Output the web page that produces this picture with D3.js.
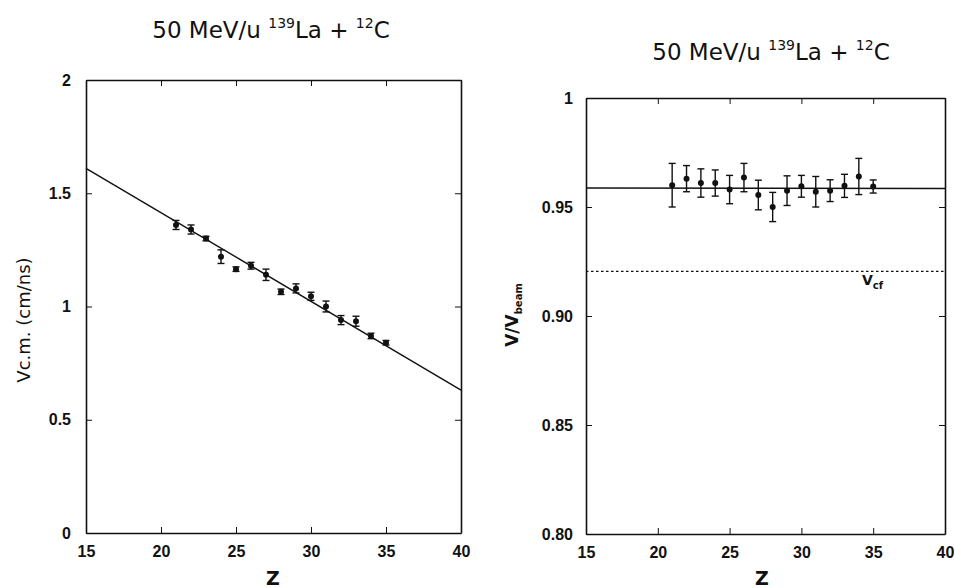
<!DOCTYPE html>
<html>
<head>
<meta charset="utf-8">
<script src="https://cdn.jsdelivr.net/npm/d3@7"></script>
<style>
  body { margin: 0; background: #fff; }
  svg { display: block; font-family: "DejaVu Sans", sans-serif; }
  .tick text { font-family: "Liberation Sans", sans-serif; font-weight: bold; font-size: 16px; fill: #111; }
  .domain, .tick line { stroke: #111; }
</style>
</head>
<body>
<div id="chart"></div>
<script>
// Left panel: centre-of-mass velocity vs Z
const zLeft = [21, 22, 23, 24, 25, 26, 27, 28, 29, 30, 31, 32, 33, 34, 35];
const vcm = [1.36, 1.34, 1.30, 1.22, 1.165, 1.18, 1.14, 1.065, 1.08, 1.045, 1.0, 0.94, 0.935, 0.87, 0.84];
const vcmErr = [0.02, 0.02, 0.01, 0.03, 0.01, 0.015, 0.025, 0.012, 0.02, 0.018, 0.024, 0.02, 0.022, 0.012, 0.01];
const fitLeft = [[15, 1.61], [40, 0.631]];
const leftYTicks = [0, 0.5, 1, 1.5, 2];
const leftYLabels = ["0", "0.5", "1", "1.5", "2"];

// Right panel: V / V_beam vs Z
const zRight = [21, 22, 23, 24, 25, 26, 27, 28, 29, 30, 31, 32, 33, 34, 35];
const vRatio = [0.960, 0.963, 0.961, 0.961, 0.958, 0.9635, 0.9555, 0.950, 0.9575, 0.9595, 0.957, 0.9575, 0.9597, 0.964, 0.9594];
const vRatioErr = [0.010, 0.006, 0.0065, 0.006, 0.0065, 0.0065, 0.0068, 0.0067, 0.0068, 0.005, 0.007, 0.005, 0.0053, 0.0083, 0.003];
const fitRight = [[15, 0.9587], [40, 0.9585]];
const vcf = 0.9205;
const rightYTicks = [0.80, 0.85, 0.90, 0.95, 1];
const rightYLabels = ["0.80", "0.85", "0.90", "0.95", "1"];

const xTicks = [15, 20, 25, 30, 35, 40];

const svg = d3.select("#chart").append("svg").attr("width", 955).attr("height", 588);

function title(cx, y) {
  const t = svg.append("text").attr("x", cx).attr("y", y).attr("text-anchor", "middle")
    .attr("font-size", 23).attr("fill", "#111");
  t.append("tspan").text("50 MeV/u ");
  t.append("tspan").attr("font-size", 14).attr("dy", -10).text("139");
  t.append("tspan").attr("dy", 10).text("La + ");
  t.append("tspan").attr("font-size", 14).attr("dy", -10).text("12");
  t.append("tspan").attr("dy", 10).text("C");
}

function panel({left, right, top, bottom, yDomain, yTicks, yLabels, z, v, err, fit, labelPad}) {
  const x = d3.scaleLinear([15, 40], [left, right]);
  const y = d3.scaleLinear(yDomain, [bottom, top]);
  const g = svg.append("g");

  g.append("g").attr("transform", `translate(${left},0)`)
    .call(d3.axisLeft(y).tickValues(yTicks).tickFormat((d, i) => yLabels[i]).tickSize(-6).tickPadding(labelPad).tickSizeOuter(0));
  g.append("g").attr("transform", `translate(${right},0)`)
    .call(d3.axisRight(y).tickValues(yTicks).tickFormat("").tickSize(-6).tickSizeOuter(0));
  g.append("g").attr("transform", `translate(0,${bottom})`)
    .call(d3.axisBottom(x).tickValues(xTicks).tickSize(-6).tickPadding(13).tickSizeOuter(0));
  g.append("g").attr("transform", `translate(0,${top})`)
    .call(d3.axisTop(x).tickValues(xTicks).tickFormat("").tickSize(-6).tickSizeOuter(0));
  g.selectAll(".domain").attr("stroke-width", 1.6);

  // fit line
  g.append("path").attr("fill", "none").attr("stroke", "#111").attr("stroke-width", 1.4)
    .attr("d", d3.line().x((d) => x(d[0])).y((d) => y(d[1]))(fit));

  // error bars
  const pts = z.map((d, i) => ({z: d, v: v[i], e: err[i]}));
  const eb = g.append("g").attr("stroke", "#111").attr("stroke-width", 1.4);
  eb.selectAll("line.bar").data(pts).join("line").attr("class", "bar")
    .attr("x1", (d) => x(d.z)).attr("x2", (d) => x(d.z))
    .attr("y1", (d) => y(d.v - d.e)).attr("y2", (d) => y(d.v + d.e));
  eb.selectAll("line.capt").data(pts).join("line").attr("class", "capt")
    .attr("x1", (d) => x(d.z) - 3.5).attr("x2", (d) => x(d.z) + 3.5)
    .attr("y1", (d) => y(d.v + d.e)).attr("y2", (d) => y(d.v + d.e));
  eb.selectAll("line.capb").data(pts).join("line").attr("class", "capb")
    .attr("x1", (d) => x(d.z) - 3.5).attr("x2", (d) => x(d.z) + 3.5)
    .attr("y1", (d) => y(d.v - d.e)).attr("y2", (d) => y(d.v - d.e));
  g.selectAll("circle").data(pts).join("circle")
    .attr("cx", (d) => x(d.z)).attr("cy", (d) => y(d.v)).attr("r", 3).attr("fill", "#111");

  return {x, y, g};
}

title(271, 38);
title(771, 60);

const L = panel({left: 86, right: 461, top: 80, bottom: 533, yDomain: [0, 2],
  yTicks: leftYTicks, yLabels: leftYLabels, z: zLeft, v: vcm, err: vcmErr, fit: fitLeft, labelPad: 15});

const R = panel({left: 586, right: 945, top: 98, bottom: 534, yDomain: [0.8, 1],
  yTicks: rightYTicks, yLabels: rightYLabels, z: zRight, v: vRatio, err: vRatioErr, fit: fitRight, labelPad: 13});

// V_cf dotted line
R.g.append("line").attr("x1", R.x(15)).attr("x2", R.x(40)).attr("y1", R.y(vcf)).attr("y2", R.y(vcf))
  .attr("stroke", "#111").attr("stroke-width", 1.3).attr("stroke-dasharray", "2.5,2.5");
const vl = R.g.append("text").attr("x", 862).attr("y", 285).attr("font-size", 14)
  .attr("font-weight", "bold").attr("fill", "#111");
vl.append("tspan").text("V");
vl.append("tspan").attr("font-size", 10).attr("dy", 4).text("cf");

// axis titles
svg.append("text").attr("x", 273).attr("y", 585).attr("text-anchor", "middle")
  .attr("font-size", 19).attr("font-weight", "bold").attr("fill", "#111").text("Z");
svg.append("text").attr("x", 762).attr("y", 585).attr("text-anchor", "middle")
  .attr("font-size", 19).attr("font-weight", "bold").attr("fill", "#111").text("Z");

svg.append("text").attr("transform", "translate(30,320) rotate(-90)").attr("text-anchor", "middle")
  .attr("font-size", 18).attr("fill", "#111").text("Vc.m. (cm/ns)");

const yl = svg.append("text").attr("transform", "translate(518,315) rotate(-90)").attr("text-anchor", "middle")
  .attr("font-size", 17).attr("font-weight", "bold").attr("fill", "#111");
yl.append("tspan").text("V/V");
yl.append("tspan").attr("font-size", 10).attr("dy", 4).text("beam");
</script>
</body>
</html>
